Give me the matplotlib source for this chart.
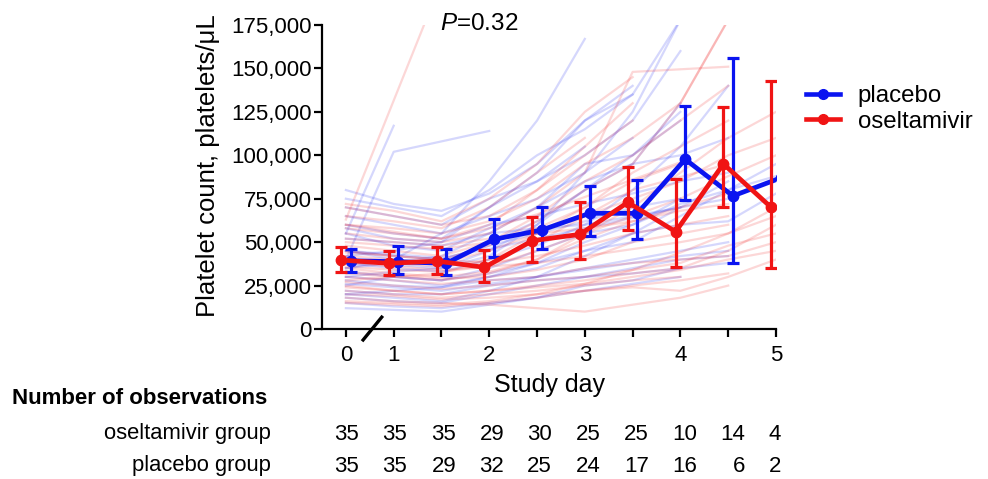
import numpy as np
import matplotlib

matplotlib.use("Agg")
import matplotlib.pyplot as plt  # noqa: E402
import matplotlib.transforms as mtransforms  # noqa: E402
from matplotlib.lines import Line2D  # noqa: E402
from matplotlib.ticker import FuncFormatter  # noqa: E402

plt.rcParams["font.family"] = ["Liberation Sans", "DejaVu Sans"]
plt.rcParams["mathtext.fontset"] = "custom"
plt.rcParams["mathtext.it"] = "Liberation Sans:italic"
plt.rcParams["mathtext.rm"] = "Liberation Sans"

N = np.nan

# ---- data (platelets in thousands / uL) ----
STUDY_DAYS = ["0", "1", "", "2", "", "3", "", "4", "", "5"]
DAY_POS = np.array([0.5, 1.0, 1.5, 2.0, 2.5, 3.0, 3.5, 4.0, 4.5, 5.0])

PLACEBO_MEAN = [39.3, 38.7, 37.8, 51.6, 57.0, 66.6, 66.6, 97.7, 76.6, 87.0]
PLACEBO_LO = [32.8, 31.7, 30.9, 41.6, 46.0, 53.7, 51.6, 74.3, 37.8, N]
PLACEBO_HI = [46.2, 47.8, 46.2, 63.5, 70.0, 82.3, 85.8, 128.4, 156.2, N]

OSELT_MEAN = [39.7, 37.8, 39.1, 35.5, 50.8, 54.5, 72.9, 56.0, 95.0, 70.0]
OSELT_LO = [32.8, 31.1, 31.7, 27.1, 38.7, 40.3, 57.0, 35.9, 70.4, 34.9]
OSELT_HI = [47.2, 44.9, 47.0, 45.5, 64.6, 73.3, 93.5, 86.2, 128.0, 142.8]

N_OSELT = [35, 35, 35, 29, 30, 25, 25, 10, 14, 4]
N_PLACEBO = [35, 35, 29, 32, 25, 24, 17, 16, 6, 2]

# individual patients (approximate)
PLACEBO_PATIENTS = [
    [45, 40, 38, 50, 62, 80, 95, 130, N, N],
    [20, 18, 16, 22, 30, 42, 55, 70, N, N],
    [60, 55, 52, 70, 85, 100, 120, 160, N, N],
    [30, 28, 25, 30, 35, 45, 50, 65, 80, 95],
    [75, 70, 65, 80, 100, 115, 135, N, N, N],
    [15, 13, 12, 15, 18, 25, 28, 35, N, N],
    [40, 102, N, 114, N, N, N, N, N, N],
    [25, 30, 28, 35, 45, 55, 60, 75, N, N],
    [55, 48, 45, 58, 70, 95, 100, 125, N, N],
    [38, 35, 33, 40, 48, 60, 80, 105, 140, N],
    [28, 25, 24, 28, 30, 35, 40, 45, 50, N],
    [65, 60, 55, 65, 75, 90, 110, N, N, N],
    [18, 16, 15, 20, 25, 30, 35, 40, 42, N],
    [42, 45, 50, 70, 90, 120, 135, 178, N, N],
    [33, 30, 28, 32, 38, 45, 55, 60, 62, 78],
    [70, 65, 60, 75, 85, 105, N, N, N, N],
    [22, 20, 20, 25, 28, 30, 32, 35, 38, N],
    [55, 117, N, N, N, N, N, N, N, N],
    [35, 38, 42, 55, 70, 85, 95, 100, 110, N],
    [58, 52, 50, 60, 65, 72, 78, 85, 90, N],
    [12, 11, 10, 14, 18, 22, 26, 30, N, N],
    [45, 42, 40, 48, 55, 62, 70, 75, N, N],
    [30, 33, 35, 45, 60, 80, 100, 120, N, N],
    [52, 50, 48, 55, 58, 60, 65, 70, 85, N],
    [80, 72, 68, 78, 95, 120, 140, N, N, N],
    [26, 24, 22, 26, 30, 34, 38, 42, 45, N],
    [40, 37, 35, 42, 60, 90, 125, 178, N, N],
    [35, 40, 55, 85, 120, 167, N, N, N, N],
    [20, 22, 24, 30, 38, 50, 60, 72, 80, 88],
    [45, 43, 41, 46, 52, 58, 64, 70, 75, N],
]

OSELT_PATIENTS = [
    [63, N, 200, N, N, N, N, N, N, N],
    [40, 38, 36, 40, 50, 65, 80, N, 95, N],
    [25, 22, 20, 22, 25, 28, 32, 35, 45, 60],
    [55, 52, 50, 55, 70, 90, 148, N, 151, N],
    [18, 16, 15, 14, 12, 10, 14, 18, 25, N],
    [70, 65, 60, 65, 80, 100, 120, N, N, N],
    [35, 32, 30, 33, 40, 55, 70, 90, 110, 125],
    [30, 28, 26, 28, 30, 35, 38, 40, 42, 50],
    [60, 58, 55, 62, 75, 95, 110, 130, 178, N],
    [45, 42, 40, 38, 42, 48, 55, 60, 65, N],
    [22, 20, 18, 20, 22, 25, 28, 30, N, N],
    [50, 48, 46, 50, 58, 70, 85, 95, N, N],
    [28, 30, 32, 40, 55, 70, 90, 105, 120, N],
    [38, 36, 34, 36, 38, 42, 46, 50, 55, 70],
    [65, 62, 58, 70, 90, 110, N, N, N, N],
    [15, 14, 13, 15, 18, 22, 25, 28, 32, N],
    [42, 40, 38, 45, 55, 65, 75, 85, 100, 110],
    [33, 31, 29, 30, 34, 40, 50, 55, 60, N],
    [58, 55, 52, 60, 80, 105, 130, N, N, N],
    [20, 19, 17, 18, 20, 22, 24, 22, 30, 40],
    [48, 45, 42, 50, 65, 85, 100, 120, 140, N],
    [27, 25, 23, 25, 28, 30, 34, 38, 48, 55],
    [72, 68, 62, 75, 95, 125, 145, N, N, N],
    [36, 34, 33, 36, 45, 55, 65, 75, 88, 100],
    [52, 50, 48, 52, 55, 58, 62, 68, 72, N],
    [24, 22, 20, 22, 24, 26, 30, 34, 40, 45],
    [44, 42, 40, 48, 62, 80, 95, 130, 178, N],
    [32, 30, 28, 32, 40, 52, 62, 70, 78, N],
    [60, 56, 52, 58, 66, 76, 86, 96, N, N],
    [16, 15, 14, 16, 20, 26, 34, 44, 55, 65],
]

BLUE = "#0a14f0"
RED = "#f01414"
W, H = 988, 479


def px(x, y):
    return x / W, 1 - y / H


fig = plt.figure(figsize=(W / 100, H / 100), dpi=100)
ax = fig.add_axes([322 / W, 1 - 329 / H, 454 / W, 304 / H])

for rows, col in ((PLACEBO_PATIENTS, BLUE), (OSELT_PATIENTS, RED)):
    for row in rows:
        y = np.array(row, dtype=float) * 1000
        m = np.isfinite(y)
        ax.plot(DAY_POS[m], y[m], color=col, alpha=0.17, lw=1.6, zorder=2)

for mean, lo, hi, col, dx in ((PLACEBO_MEAN, PLACEBO_LO, PLACEBO_HI, BLUE, 0.05),
                              (OSELT_MEAN, OSELT_LO, OSELT_HI, RED, -0.05)):
    mean = np.array(mean) * 1000
    lo = np.array(lo) * 1000
    hi = np.array(hi) * 1000
    ax.plot(DAY_POS + dx, mean, color=col, lw=3.4, marker="o", ms=7.5,
            zorder=5)
    ok = np.isfinite(lo)
    ax.errorbar((DAY_POS + dx)[ok], mean[ok],
                yerr=[mean[ok] - lo[ok], hi[ok] - mean[ok]], fmt="none",
                ecolor=col, elinewidth=2.3, capsize=4.5, capthick=2.3,
                zorder=5)

ax.set_xlim(0.25, 5.0)
ax.set_ylim(0, 175000)
ax.set_xticks(DAY_POS)
ax.set_xticklabels(STUDY_DAYS)
ax.set_yticks(np.arange(0, 175001, 25000))
ax.yaxis.set_major_formatter(FuncFormatter(lambda v, _: f"{v:,.0f}"))
for s in ("top", "right"):
    ax.spines[s].set_visible(False)
for s in ("left", "bottom"):
    ax.spines[s].set_linewidth(1.6)
ax.tick_params(width=1.6, length=5.5, labelsize=16, pad=2)
ax.tick_params(axis="x", pad=6)

# axis break on the x axis
tr = mtransforms.blended_transform_factory(ax.transData, ax.transAxes)
ax.add_line(Line2D([0.68, 0.875], [-0.036, 0.039], transform=tr, color="black",
                   lw=2.4, clip_on=False, zorder=6))

fig.text(*px(208, 166), "Platelet count, platelets/\u03bcL", rotation=90,
         ha="center", va="center", fontsize=18.5)
fig.text(*px(549, 385), "Study day", ha="center", va="center", fontsize=18)
fig.text(*px(479, 24), "$P$=0.32", ha="center", va="center", fontsize=17.5)

handles = [Line2D([], [], color=BLUE, lw=3.3, marker="o", ms=7),
           Line2D([], [], color=RED, lw=3.3, marker="o", ms=7)]
fig.legend(handles, ["placebo", "oseltamivir"], loc="upper left",
           bbox_to_anchor=px(806, 85), frameon=False, fontsize=17.3,
           handlelength=1.4, handletextpad=0.75, labelspacing=0.15,
           borderaxespad=0, borderpad=0)

# number of observations table
fig.text(*px(12, 398), "Number of observations", ha="left", va="center",
         fontsize=16, fontweight="bold")
fig.text(*px(271, 433), "oseltamivir group", ha="right", va="center",
         fontsize=15.8)
fig.text(*px(271, 466), "placebo group", ha="right", va="center",
         fontsize=15.8)
col_right = [359, 407, 456, 504, 552, 601, 649, 697, 745, 781]
for xr, a, b in zip(col_right, N_OSELT, N_PLACEBO):
    fig.text(*px(xr, 434), str(a), ha="right", va="center", fontsize=16)
    fig.text(*px(xr, 466), str(b), ha="right", va="center", fontsize=16)

fig.savefig("out.png", dpi=100, facecolor="white")
